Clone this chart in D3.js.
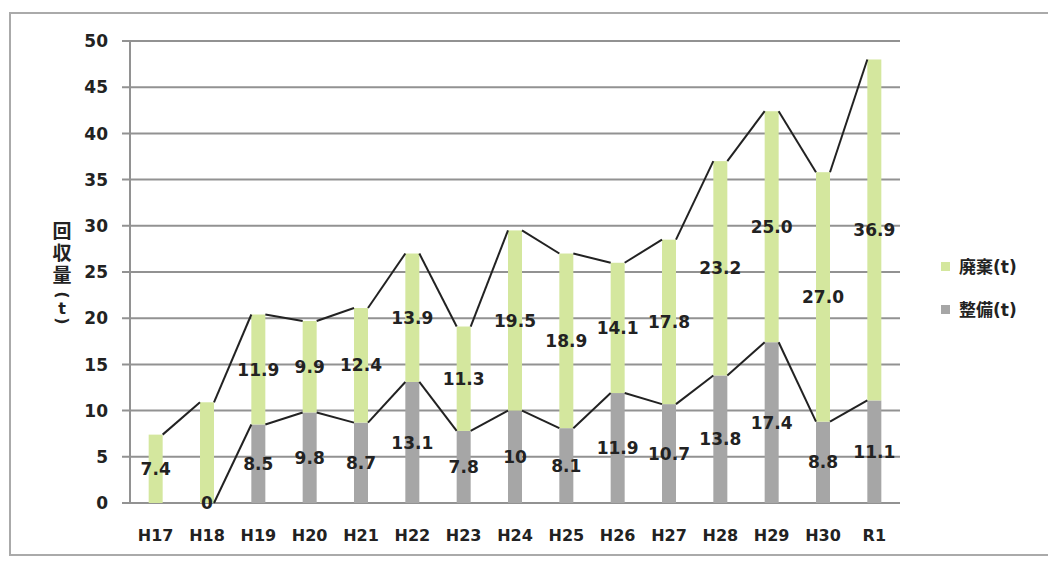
<!DOCTYPE html>
<html>
<head>
<meta charset="utf-8">
<script src="https://cdn.jsdelivr.net/npm/d3@7"></script>
<style>
  body { margin: 0; background: #fff; }
  text { font-family: "DejaVu Sans", "Noto Sans CJK JP", sans-serif; font-weight: bold; fill: #222; }
</style>
</head>
<body>
<div id="chart"></div>
<script>
// categories and series (t)
const years = ["H17","H18","H19","H20","H21","H22","H23","H24","H25","H26","H27","H28","H29","H30","R1"];
const seibi = [0, 0, 8.5, 9.8, 8.7, 13.1, 7.8, 10, 8.1, 11.9, 10.7, 13.8, 17.4, 8.8, 11.1];
const haiki = [7.4, 10.9, 11.9, 9.9, 12.4, 13.9, 11.3, 19.5, 18.9, 14.1, 17.8, 23.2, 25.0, 27.0, 36.9];
const seibiLabels = [null, "0", "8.5", "9.8", "8.7", "13.1", "7.8", "10", "8.1", "11.9", "10.7", "13.8", "17.4", "8.8", "11.1"];
const haikiLabels = ["7.4", null, "11.9", "9.9", "12.4", "13.9", "11.3", "19.5", "18.9", "14.1", "17.8", "23.2", "25.0", "27.0", "36.9"];
const yTicks = [0, 5, 10, 15, 20, 25, 30, 35, 40, 45, 50];
const titleChars = ["回", "収", "量", "(", "t", ")"];

const W = 1048, H = 561;
const svg = d3.select("#chart").append("svg")
    .attr("width", W)
    .attr("height", H);

// outer frame
svg.append("rect")
    .attr("x", 10).attr("y", 13)
    .attr("width", W).attr("height", 542)
    .attr("fill", "none")
    .attr("stroke", "#aaa")
    .attr("stroke-width", 2);

const x = d3.scaleBand()
    .domain(years)
    .range([130, 900]);

const y = d3.scaleLinear()
    .domain([0, 50])
    .range([503, 41]);

const barW = 14;

// gridlines
svg.append("g")
  .selectAll("line")
  .data(yTicks)
  .enter().append("line")
    .attr("x1", 122)
    .attr("x2", 900)
    .attr("y1", d => y(d))
    .attr("y2", d => y(d))
    .attr("stroke", "#929292")
    .attr("stroke-width", 2);

// y axis line
svg.append("line")
    .attr("x1", 130).attr("x2", 130)
    .attr("y1", y(50)).attr("y2", y(0))
    .attr("stroke", "#929292")
    .attr("stroke-width", 2);

// y tick labels
svg.append("g")
  .selectAll("text")
  .data(yTicks)
  .enter().append("text")
    .attr("x", 108)
    .attr("y", d => y(d))
    .attr("dy", "0.36em")
    .attr("text-anchor", "end")
    .style("font-size", "17px")
    .text(d => d);

// x labels
svg.append("g")
  .selectAll("text")
  .data(years)
  .enter().append("text")
    .attr("x", d => x(d) + x.bandwidth() / 2)
    .attr("y", 541)
    .attr("text-anchor", "middle")
    .style("font-size", "16px")
    .text(d => d);

// y title, stacked one char per row; brackets turned sideways
const titleY = [231, 253, 275, 295, 308, 321];
svg.append("g").selectAll("text")
  .data(titleChars)
  .enter().append("text")
    .attr("x", 62)
    .attr("y", (d, i) => titleY[i])
    .attr("dy", d => (d === "(" || d === ")") ? "0.3em" : "0.36em")
    .attr("text-anchor", "middle")
    .attr("transform", (d, i) => (d === "(" || d === ")") ? `rotate(90, 62, ${titleY[i]})` : null)
    .style("font-family", d => d === "t" || d === "(" || d === ")" ? "'DejaVu Sans', sans-serif" : "'Noto Sans CJK JP', sans-serif")
    .style("font-size", d => "回収量".includes(d) ? "19px" : "16px")
    .text(d => d);

// stacked bars
const data = years.map((yr, i) => ({yr, s: seibi[i], h: haiki[i]}));
const cx = d => x(d.yr) + x.bandwidth() / 2;

svg.append("g").selectAll("rect")
  .data(data)
  .enter().append("rect")
    .attr("x", d => cx(d) - barW / 2)
    .attr("y", d => y(d.s))
    .attr("width", barW)
    .attr("height", d => y(0) - y(d.s))
    .attr("fill", "#a6a6a6");

svg.append("g").selectAll("rect")
  .data(data)
  .enter().append("rect")
    .attr("x", d => cx(d) - barW / 2)
    .attr("y", d => y(d.s + d.h))
    .attr("width", barW)
    .attr("height", d => y(d.s) - y(d.s + d.h))
    .attr("fill", "#d4e79e");

// series lines (right edge of one bar to left edge of next)
const segs = [];
for (let i = 0; i < data.length - 1; i++) {
  const a = data[i], b = data[i + 1];
  if (a.s > 0 || b.s > 0)
    segs.push({x1: cx(a) + barW / 2, x2: cx(b) - barW / 2, y1: y(a.s), y2: y(b.s)});
  segs.push({x1: cx(a) + barW / 2, x2: cx(b) - barW / 2, y1: y(a.s + a.h), y2: y(b.s + b.h)});
}
svg.append("g").selectAll("line")
  .data(segs)
  .enter().append("line")
    .attr("x1", d => d.x1).attr("x2", d => d.x2)
    .attr("y1", d => d.y1).attr("y2", d => d.y2)
    .attr("stroke", "#222")
    .attr("stroke-width", 2);

// data labels
svg.append("g").selectAll("text")
  .data(data.filter((d, i) => seibiLabels[i] !== null).map(d => ({d, t: seibiLabels[years.indexOf(d.yr)]})))
  .enter().append("text")
    .attr("x", o => cx(o.d))
    .attr("y", o => y(o.d.s / 2))
    .attr("dy", "0.36em")
    .attr("text-anchor", "middle")
    .style("font-size", "17px")
    .text(o => o.t);

svg.append("g").selectAll("text")
  .data(data.filter((d, i) => haikiLabels[i] !== null).map(d => ({d, t: haikiLabels[years.indexOf(d.yr)]})))
  .enter().append("text")
    .attr("x", o => cx(o.d))
    .attr("y", o => y(o.d.s + o.d.h / 2))
    .attr("dy", "0.36em")
    .attr("text-anchor", "middle")
    .style("font-size", "17px")
    .text(o => o.t);

// legend
const legend = svg.append("g").attr("transform", "translate(941, 262)");
[["廃棄(t)", "#d4e79e"], ["整備(t)", "#a6a6a6"]].forEach((item, i) => {
  const g = legend.append("g").attr("transform", `translate(0, ${i * 43})`);
  g.append("rect")
      .attr("width", 9).attr("height", 9)
      .attr("fill", item[1]);
  g.append("text")
      .attr("x", 18).attr("y", 5)
      .attr("dy", "0.36em")
      .style("font-size", "17px")
      .text(item[0]);
});
</script>
</body>
</html>
